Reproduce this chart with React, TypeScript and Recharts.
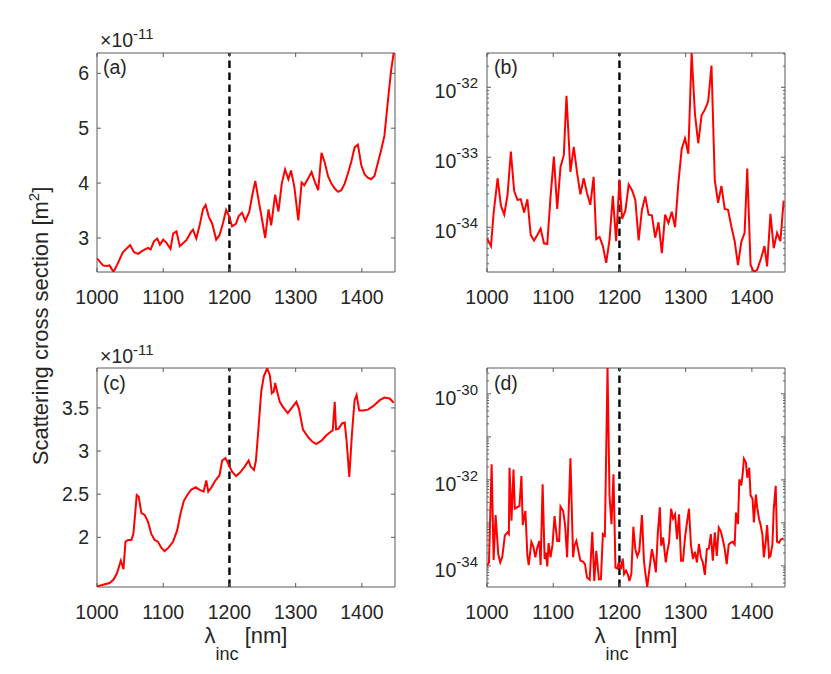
import React from 'react';
import { LineChart, Line, XAxis, YAxis, ReferenceLine, ReferenceArea } from 'recharts';

const FONT = '"Liberation Sans", Arial, Helvetica, sans-serif';
const INK = '#262626';
const AXIS = '#595959';
const RED = '#ff0000';

// plot box size shared by the four panels
const PW = 298;
const PH = 219;
const YW = 90;
const MT = 10;
const MR = 12;
const XH = 45;

const xTicks = [1000, 1100, 1200, 1300, 1400];
const xDomain: [number, number] = [1000, 1450];
const markLambda = 1200;

// (a) linear, units of 1e-11 m^2
const lamA = [1000, 1009, 1014, 1019, 1025, 1032, 1039, 1050, 1056, 1062, 1069, 1077, 1081, 1086, 1091, 1095, 1100, 1105, 1111, 1115, 1120, 1125, 1135, 1142, 1145, 1150, 1155, 1160, 1164, 1169, 1174, 1180, 1185, 1190, 1195, 1199, 1204, 1210, 1214, 1219, 1224, 1230, 1235, 1239, 1244, 1249, 1254, 1259, 1263, 1269, 1274, 1279, 1284, 1289, 1293, 1298, 1304, 1309, 1313, 1319, 1324, 1329, 1334, 1339, 1344, 1349, 1354, 1359, 1364, 1369, 1374, 1379, 1384, 1389, 1394, 1399, 1404, 1409, 1414, 1419, 1424, 1429, 1434, 1439, 1444, 1448];
const valA = [2.63, 2.50, 2.49, 2.50, 2.38, 2.55, 2.74, 2.87, 2.74, 2.71, 2.77, 2.82, 2.79, 2.94, 2.99, 2.88, 2.97, 2.91, 2.80, 3.08, 3.12, 2.85, 2.96, 3.11, 3.15, 2.99, 3.23, 3.52, 3.60, 3.38, 3.26, 2.97, 3.05, 3.26, 3.51, 3.41, 3.21, 3.26, 3.40, 3.46, 3.31, 3.48, 3.81, 4.04, 3.69, 3.35, 3.00, 3.52, 3.23, 3.79, 3.48, 3.99, 4.25, 4.07, 4.23, 3.93, 3.32, 4.01, 3.96, 4.09, 4.20, 4.02, 3.87, 4.55, 4.37, 4.12, 3.99, 3.90, 3.84, 3.87, 3.99, 4.18, 4.39, 4.65, 4.70, 4.33, 4.16, 4.10, 4.07, 4.13, 4.36, 4.60, 4.86, 5.46, 6.04, 6.37];
const domA: [number, number] = [2.38, 6.37];
const ticksA = [3, 4, 5, 6];

// (b) log, exponents of 10
const lamB = [1000, 1006, 1010, 1016, 1021, 1026, 1031, 1036, 1041, 1046, 1051, 1056, 1061, 1066, 1071, 1076, 1081, 1086, 1091, 1096, 1101, 1106, 1111, 1116, 1120, 1126, 1131, 1136, 1141, 1146, 1151, 1156, 1161, 1165, 1170, 1175, 1180, 1185, 1190, 1195, 1200, 1204, 1209, 1214, 1219, 1224, 1229, 1234, 1239, 1244, 1249, 1254, 1259, 1264, 1269, 1274, 1279, 1284, 1289, 1294, 1299, 1304, 1309, 1314, 1319, 1324, 1329, 1334, 1339, 1344, 1349, 1354, 1359, 1364, 1369, 1374, 1379, 1384, 1389, 1393, 1398, 1403, 1408, 1414, 1419, 1423, 1428, 1433, 1438, 1443, 1448];
const expB = [-34.16, -34.27, -33.80, -33.30, -33.69, -33.82, -33.54, -32.92, -33.48, -33.61, -33.60, -33.79, -33.60, -34.11, -34.19, -34.11, -34.02, -34.23, -34.24, -33.56, -32.99, -33.74, -33.14, -32.97, -32.12, -33.21, -32.85, -33.22, -33.53, -33.30, -33.51, -33.68, -33.28, -34.17, -34.14, -34.27, -34.51, -34.18, -33.55, -34.20, -33.32, -33.88, -33.76, -33.39, -33.47, -33.61, -34.19, -33.75, -33.56, -33.82, -33.83, -34.15, -33.93, -34.37, -33.82, -33.94, -33.78, -34.00, -33.37, -32.88, -32.73, -32.95, -31.51, -32.38, -32.80, -32.40, -32.32, -32.20, -31.69, -33.33, -33.65, -33.41, -33.74, -33.75, -33.99, -34.20, -34.54, -34.21, -34.08, -33.16, -34.54, -34.64, -34.61, -34.44, -34.27, -34.56, -33.81, -34.30, -34.08, -34.20, -33.62];
const domExpB: [number, number] = [-34.64, -31.51];

// (c) linear, units of 1e-11 m^2
const lamC = [1000, 1009, 1019, 1025, 1030, 1036, 1038, 1040, 1043, 1047, 1052, 1055, 1060, 1063, 1067, 1072, 1077, 1082, 1087, 1092, 1097, 1102, 1108, 1115, 1121, 1126, 1131, 1137, 1142, 1149, 1155, 1161, 1165, 1168, 1173, 1178, 1182, 1185, 1189, 1194, 1199, 1204, 1210, 1216, 1223, 1229, 1232, 1237, 1240, 1244, 1248, 1252, 1257, 1261, 1264, 1267, 1269, 1272, 1276, 1281, 1288, 1295, 1301, 1305, 1311, 1319, 1325, 1331, 1339, 1346, 1354, 1356, 1359, 1361, 1365, 1370, 1374, 1377, 1381, 1385, 1389, 1392, 1396, 1402, 1409, 1417, 1427, 1434, 1442, 1448];
const valC = [1.43, 1.45, 1.47, 1.51, 1.58, 1.73, 1.68, 1.63, 1.95, 1.97, 1.97, 2.04, 2.49, 2.47, 2.28, 2.26, 2.18, 2.04, 1.97, 1.95, 1.88, 1.84, 1.88, 1.95, 2.08, 2.27, 2.42, 2.50, 2.55, 2.58, 2.55, 2.53, 2.66, 2.53, 2.58, 2.65, 2.69, 2.72, 2.89, 2.92, 2.84, 2.76, 2.71, 2.75, 2.82, 2.89, 2.82, 2.78, 2.89, 3.28, 3.69, 3.87, 3.96, 3.88, 3.67, 3.69, 3.79, 3.69, 3.57, 3.51, 3.44, 3.51, 3.57, 3.49, 3.25, 3.16, 3.11, 3.08, 3.12, 3.18, 3.23, 3.24, 3.57, 3.25, 3.26, 3.32, 3.33, 3.11, 2.70, 3.20, 3.59, 3.65, 3.47, 3.47, 3.48, 3.52, 3.59, 3.62, 3.61, 3.56];
const domC: [number, number] = [1.424, 3.963];
const ticksC = [2, 2.5, 3, 3.5];

// (d) log, exponents of 10
const lamD = [1000, 1003, 1007, 1010, 1013, 1017, 1020, 1023, 1027, 1031, 1033, 1034, 1037, 1040, 1042, 1045, 1049, 1052, 1054, 1058, 1061, 1063, 1067, 1070, 1073, 1076, 1079, 1081, 1084, 1087, 1089, 1091, 1093, 1096, 1099, 1102, 1106, 1109, 1111, 1115, 1118, 1121, 1126, 1130, 1132, 1135, 1138, 1141, 1145, 1148, 1151, 1155, 1159, 1162, 1165, 1169, 1172, 1175, 1178, 1182, 1185, 1188, 1191, 1194, 1197, 1199, 1202, 1205, 1207, 1210, 1213, 1215, 1218, 1221, 1224, 1227, 1230, 1234, 1237, 1239, 1242, 1246, 1249, 1252, 1255, 1258, 1261, 1263, 1266, 1270, 1272, 1275, 1278, 1281, 1284, 1287, 1290, 1293, 1296, 1299, 1302, 1305, 1308, 1311, 1314, 1317, 1320, 1323, 1326, 1329, 1332, 1335, 1338, 1341, 1344, 1347, 1350, 1353, 1356, 1359, 1362, 1365, 1368, 1371, 1374, 1376, 1379, 1381, 1384, 1386, 1388, 1391, 1393, 1396, 1398, 1401, 1403, 1406, 1408, 1411, 1413, 1416, 1418, 1421, 1423, 1426, 1428, 1431, 1433, 1436, 1438, 1441, 1444, 1448];
const expD = [-34.00, -33.92, -31.64, -33.86, -32.82, -33.73, -33.92, -33.80, -33.29, -33.22, -33.26, -31.72, -32.95, -31.76, -32.67, -32.64, -32.61, -31.91, -33.05, -32.72, -33.77, -33.98, -33.44, -33.55, -33.80, -33.57, -33.42, -33.98, -32.10, -33.84, -33.69, -34.01, -33.47, -33.80, -33.50, -32.84, -33.42, -33.42, -32.62, -32.72, -33.07, -33.80, -31.50, -33.80, -33.53, -33.42, -33.65, -33.88, -33.90, -33.96, -34.27, -34.32, -33.21, -34.35, -33.65, -34.31, -34.31, -33.26, -33.30, -29.40, -32.37, -33.03, -31.87, -34.04, -34.06, -33.92, -34.08, -33.83, -34.19, -34.11, -34.21, -34.35, -34.19, -33.09, -33.61, -33.78, -33.65, -32.82, -33.88, -34.15, -34.49, -33.98, -33.61, -33.84, -34.15, -33.22, -32.64, -33.53, -33.34, -33.92, -33.69, -33.44, -32.67, -32.90, -32.80, -33.38, -32.80, -33.88, -33.88, -33.34, -32.99, -32.67, -33.52, -33.84, -33.67, -33.92, -33.49, -33.80, -33.92, -34.21, -33.61, -33.60, -33.26, -33.88, -33.22, -33.77, -33.11, -33.19, -33.38, -33.61, -33.96, -33.50, -33.46, -33.44, -33.50, -32.76, -33.03, -31.99, -32.13, -31.87, -31.51, -31.60, -31.95, -31.72, -32.36, -32.44, -32.99, -32.34, -32.64, -32.92, -33.03, -33.29, -33.80, -33.42, -33.05, -33.80, -33.77, -33.50, -32.68, -32.14, -33.44, -33.46, -33.38, -33.36];
const domExpD: [number, number] = [-34.49, -29.40];

const toRows = (lam: number[], val: number[]) => lam.map((x, i) => ({ x, v: val[i] }));
const toLogRows = (lam: number[], ex: number[]) => lam.map((x, i) => ({ x, v: Math.pow(10, ex[i]) }));
const logDomain = (d: [number, number]): [number, number] => [Math.pow(10, d[0]), Math.pow(10, d[1])];

function logTicks(d: [number, number]) {
  const out: number[] = [];
  for (let n = Math.floor(d[0]); n <= Math.ceil(d[1]); n++) {
    for (let k = 1; k <= 9; k++) {
      const e = n + Math.log10(k);
      if (e >= d[0] && e <= d[1]) out.push(k * Math.pow(10, n));
    }
  }
  return out;
}

const XTick = (props: any) => {
  const { x, y, payload } = props;
  return (
    <g>
      <line x1={x} y1={y} x2={x} y2={y - 4} stroke={AXIS} />
      <line x1={x} y1={y - PH} x2={x} y2={y - PH + 4} stroke={AXIS} />
      <text x={x} y={y + 32} textAnchor="middle" fontSize={19.5} fill={INK} fontFamily={FONT}>
        {payload.value}
      </text>
    </g>
  );
};

const LinTick = (props: any) => {
  const { x, y, payload } = props;
  return (
    <g>
      <line x1={x} y1={y} x2={x + 4} y2={y} stroke={AXIS} />
      <line x1={x + PW} y1={y} x2={x + PW - 4} y2={y} stroke={AXIS} />
      <text x={x - 8} y={y + 7} textAnchor="end" fontSize={19.5} fill={INK} fontFamily={FONT}>
        {payload.value}
      </text>
    </g>
  );
};

const makeLogTick = (step: number) => (props: any) => {
  const { x, y, payload } = props;
  const e = Math.log10(payload.value);
  const n = Math.round(e);
  const major = Math.abs(e - n) < 1e-6;
  const len = major ? 4 : 2;
  return (
    <g>
      <line x1={x} y1={y} x2={x + len} y2={y} stroke={AXIS} />
      <line x1={x + PW} y1={y} x2={x + PW - len} y2={y} stroke={AXIS} />
      {major && n % step === 0 && (
        <text x={x - 9} y={y + 11} textAnchor="end" fontSize={19.5} fill={INK} fontFamily={FONT}>
          10<tspan dy={-10} fontSize={15}>{String(n)}</tspan>
        </text>
      )}
    </g>
  );
};

type PanelProps = {
  left: number;
  top: number;
  rows: { x: number; v: number }[];
  domain: [number, number];
  ticks: number[];
  tick: any;
  log?: boolean;
};

const Panel = ({ left, top, rows, domain, ticks, tick, log }: PanelProps) => (
  <div style={{ position: 'absolute', left: left - YW, top: top - MT }}>
    <LineChart
      width={YW + PW + MR}
      height={MT + PH + XH}
      data={rows}
      margin={{ top: MT, right: MR, bottom: 0, left: 0 }}
    >
      <XAxis
        dataKey="x"
        type="number"
        domain={xDomain}
        ticks={xTicks}
        interval={0}
        tick={XTick}
        tickLine={false}
        axisLine={false}
        tickSize={0}
        tickMargin={0}
        height={XH}
        allowDataOverflow
      />
      <YAxis
        type="number"
        scale={log ? 'log' : 'linear'}
        domain={domain}
        ticks={ticks}
        interval={0}
        tick={tick}
        tickLine={false}
        axisLine={false}
        tickSize={0}
        tickMargin={0}
        width={YW}
        allowDataOverflow
      />
      <ReferenceLine x={markLambda} stroke="#000" strokeWidth={2.4} strokeDasharray="7.5 4.5" />
      <Line dataKey="v" type="linear" stroke={RED} strokeWidth={2} dot={false} isAnimationActive={false} />
      <ReferenceArea
        x1={xDomain[0]}
        x2={xDomain[1]}
        y1={domain[0]}
        y2={domain[1]}
        fill="none"
        stroke={AXIS}
        strokeWidth={1}
        ifOverflow="visible"
      />
    </LineChart>
  </div>
);

const txt = { fontFamily: FONT, fill: INK };

const App: React.FC = () => {
  const domB = logDomain(domExpB);
  const domD = logDomain(domExpD);
  return (
    <div style={{ position: 'absolute', left: 0, top: 0, width: 831, height: 674, background: '#fff' }}>
      <Panel left={97} top={53} rows={toRows(lamA, valA)} domain={domA} ticks={ticksA} tick={LinTick} />
      <Panel left={487} top={53} rows={toLogRows(lamB, expB)} domain={domB} ticks={logTicks(domExpB)} tick={makeLogTick(1)} log />
      <Panel left={97} top={368} rows={toRows(lamC, valC)} domain={domC} ticks={ticksC} tick={LinTick} />
      <Panel left={487} top={368} rows={toLogRows(lamD, expD)} domain={domD} ticks={logTicks(domExpD)} tick={makeLogTick(2)} log />

      <svg width={831} height={674} style={{ position: 'absolute', left: 0, top: 0, pointerEvents: 'none' }}>
        <text x={100} y={47} fontSize={19.5} {...txt}>
          ×10<tspan dy={-8} fontSize={15}>-11</tspan>
        </text>
        <text x={100} y={363} fontSize={19.5} {...txt}>
          ×10<tspan dy={-8} fontSize={15}>-11</tspan>
        </text>

        <text x={103} y={74} fontSize={19.5} {...txt}>(a)</text>
        <text x={494} y={74} fontSize={19.5} {...txt}>(b)</text>
        <text x={103} y={390} fontSize={19.5} {...txt}>(c)</text>
        <text x={494} y={390} fontSize={19.5} {...txt}>(d)</text>

        <text x={48} y={326} fontSize={22} textAnchor="middle" transform="rotate(-90 48 326)" {...txt}>
          Scattering cross section [m<tspan dy={-9} fontSize={15}>2</tspan><tspan dy={9}>]</tspan>
        </text>

        <text x={246} y={643} fontSize={22} textAnchor="middle" {...txt}>
          λ<tspan dy={17} fontSize={18}>inc</tspan><tspan dy={-17}> [nm]</tspan>
        </text>
        <text x={636} y={643} fontSize={22} textAnchor="middle" {...txt}>
          λ<tspan dy={17} fontSize={18}>inc</tspan><tspan dy={-17}> [nm]</tspan>
        </text>
      </svg>
    </div>
  );
};

export default App;
